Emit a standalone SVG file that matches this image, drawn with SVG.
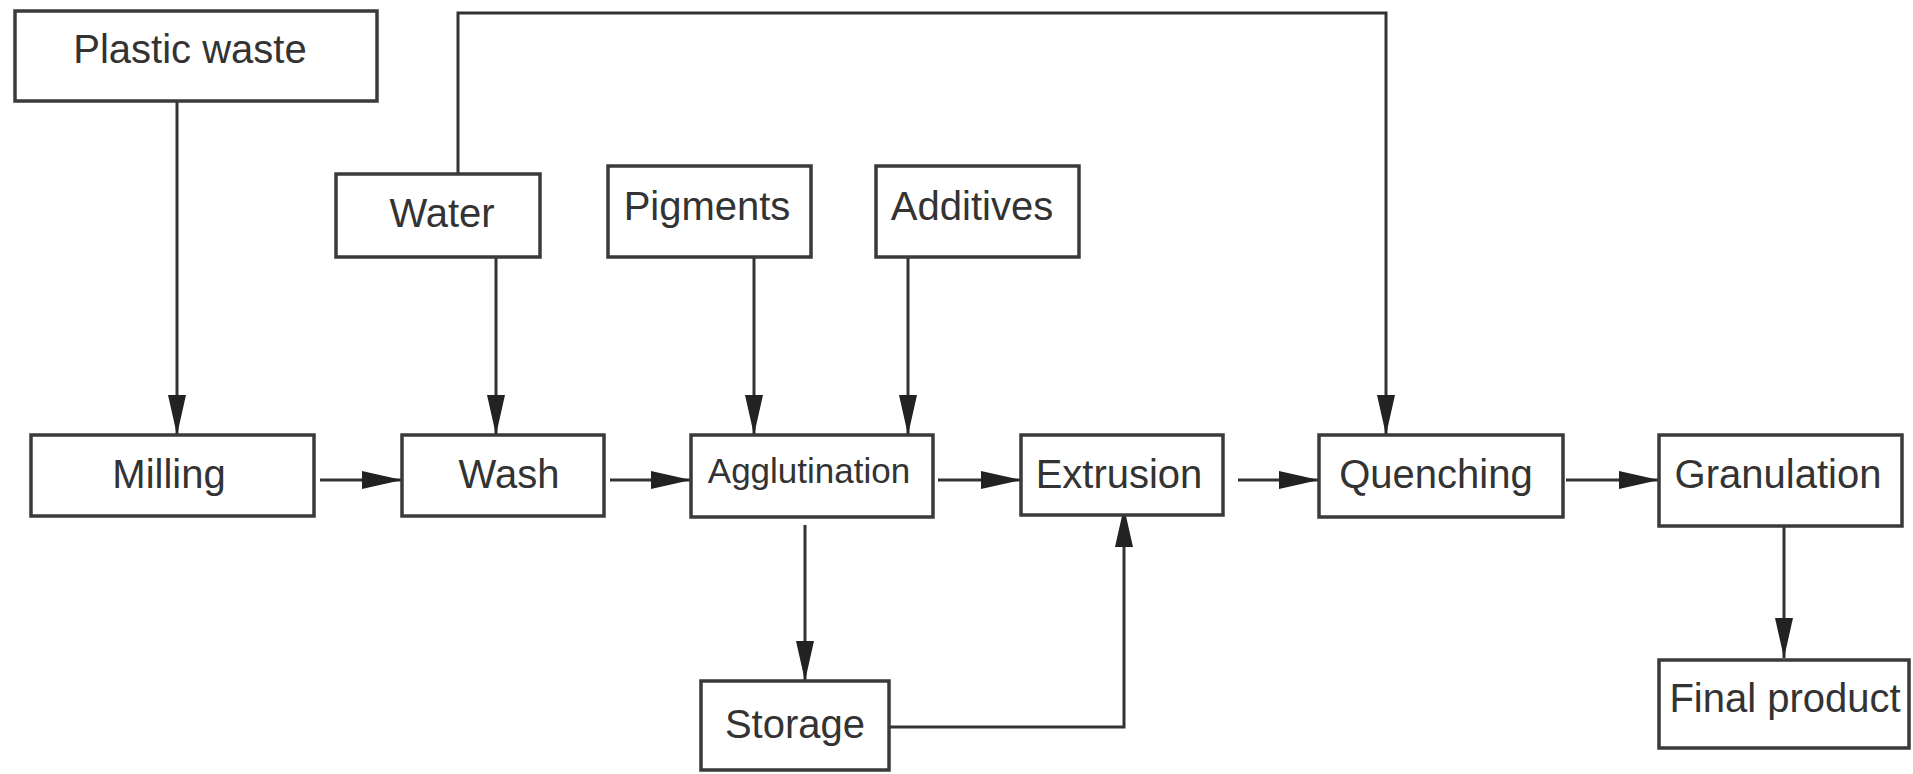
<svg xmlns="http://www.w3.org/2000/svg" width="1913" height="774" viewBox="0 0 1913 774">
<style>
.box{fill:#fff;stroke:#3a3a3a;stroke-width:3.5}
.lbl{font-family:"Liberation Sans",Arial,sans-serif;font-size:40px;fill:#333;text-anchor:middle}
.con{fill:none;stroke:#333;stroke-width:3}
</style>
<defs>
<marker id="arr" markerUnits="userSpaceOnUse" markerWidth="40" markerHeight="18" viewBox="0 0 40 18" refX="40" refY="9" orient="auto">
<path d="M0,0 L40,9 L0,18 Z" fill="#222"/>
</marker>
</defs>
<rect width="1913" height="774" fill="#fff"/>
<g id="connectors">
<path class="con" d="M177,101 V435" marker-end="url(#arr)"/>
<path class="con" d="M496,257 V435" marker-end="url(#arr)"/>
<path class="con" d="M458,174 V13 H1386 V435" marker-end="url(#arr)"/>
<path class="con" d="M754,257 V435" marker-end="url(#arr)"/>
<path class="con" d="M908,257 V435" marker-end="url(#arr)"/>
<path class="con" d="M320,480 H402" marker-end="url(#arr)"/>
<path class="con" d="M610,480 H691" marker-end="url(#arr)"/>
<path class="con" d="M938,480 H1021" marker-end="url(#arr)"/>
<path class="con" d="M1238,480 H1319" marker-end="url(#arr)"/>
<path class="con" d="M1566,480 H1659" marker-end="url(#arr)"/>
<path class="con" d="M805,525 V681" marker-end="url(#arr)"/>
<path class="con" d="M889,727 H1124 V507" marker-end="url(#arr)"/>
<path class="con" d="M1784,527 V658" marker-end="url(#arr)"/>
</g>
<g id="plastic-waste"><rect class="box" x="15" y="11" width="362" height="90"/><text class="lbl" x="190" y="63">Plastic waste</text></g>
<g id="water"><rect class="box" x="336" y="174" width="204" height="83"/><text class="lbl" x="442" y="227">Water</text></g>
<g id="pigments"><rect class="box" x="608" y="166" width="203" height="91"/><text class="lbl" x="707" y="220">Pigments</text></g>
<g id="additives"><rect class="box" x="876" y="166" width="203" height="91"/><text class="lbl" x="972" y="220">Additives</text></g>
<g id="milling"><rect class="box" x="31" y="435" width="283" height="81"/><text class="lbl" x="169" y="488">Milling</text></g>
<g id="wash"><rect class="box" x="402" y="435" width="202" height="81"/><text class="lbl" x="509" y="488">Wash</text></g>
<g id="agglutination"><rect class="box" x="691" y="435" width="242" height="82"/><text class="lbl" x="809" y="483" style="font-size:35px">Agglutination</text></g>
<g id="extrusion"><rect class="box" x="1021" y="435" width="202" height="80"/><text class="lbl" x="1119" y="488">Extrusion</text></g>
<g id="quenching"><rect class="box" x="1319" y="435" width="244" height="82"/><text class="lbl" x="1436" y="488">Quenching</text></g>
<g id="granulation"><rect class="box" x="1659" y="435" width="243" height="91"/><text class="lbl" x="1778" y="488">Granulation</text></g>
<g id="final-product"><rect class="box" x="1659" y="660" width="250" height="88"/><text class="lbl" x="1785" y="712">Final product</text></g>
<g id="storage"><rect class="box" x="701" y="681" width="188" height="89"/><text class="lbl" x="795" y="738">Storage</text></g>
</svg>
